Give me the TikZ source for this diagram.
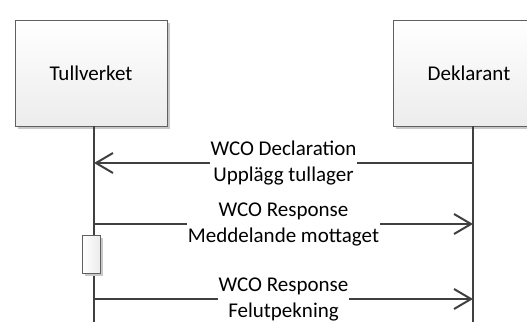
\documentclass[tikz,border=0pt]{standalone}
\usepackage{fontspec}
\setmainfont{Carlito}
\usepackage{tikz}
\usetikzlibrary{arrows.meta,shapes,positioning,shadows}
\usepackage{xcolor}
\definecolor{sqline}{RGB}{64,64,64}
\definecolor{sqborder}{RGB}{96,96,96}
\definecolor{sqshadow}{RGB}{200,200,200}
\definecolor{sqfill}{RGB}{236,236,236}
\tikzstyle{actorbox} = [rectangle, minimum width=152pt, minimum height=106pt, text centered, draw=sqborder, line width=1pt, top color=white, bottom color=sqfill, drop shadow={shadow xshift=3pt, shadow yshift=-3pt, fill=sqshadow, opacity=1}, font=\fontsize{21}{26}\selectfont]
\tikzstyle{activebox} = [rectangle, minimum width=18pt, minimum height=38pt, inner sep=0pt, draw=sqborder, line width=1pt, left color=white, right color=sqfill, drop shadow={shadow xshift=3pt, shadow yshift=-3pt, fill=sqshadow, opacity=1}]
\tikzstyle{lifeline} = [line width=2pt, color=sqline]
\tikzstyle{msgarrow} = [line width=2pt, color=sqline, -{Straight Barb[length=17pt,width=20pt]}]
\tikzstyle{msglabel} = [fill=white, align=center, inner xsep=1pt, inner ysep=0pt, text=black, font=\fontsize{21}{26}\selectfont]

\begin{document}
\begin{tikzpicture}[x=1pt,y=-1pt]
\useasboundingbox (0,0) rectangle (527,322);

% Actors
\node[actorbox] (tull) at (91,73) {Tullverket};
\node[actorbox] (dekl) at (469,73) {Deklarant};

% Lifelines
\coordinate (tulltop) at (94,126);
\coordinate (tullend) at (94,322);
\coordinate (dekltop) at (473,126);
\coordinate (deklend) at (473,322);
\draw[lifeline] (tulltop) -- (tullend);
\draw[lifeline] (dekltop) -- (deklend);

% Message end points
\coordinate (t1) at (94,163);
\coordinate (d1) at (473,163);
\coordinate (t2) at (94,224);
\coordinate (d2) at (473,224);
\coordinate (t3) at (94,299);
\coordinate (d3) at (473,299);

% Messages
\draw[msgarrow] (d1) -- node[msglabel] (lbl1) {WCO Declaration\\Upplägg tullager} (t1);
\draw[msgarrow] (t2) -- node[msglabel] (lbl2) {WCO Response\\Meddelande mottaget} (d2);
\draw[msgarrow] (t3) -- node[msglabel] (lbl3) {WCO Response\\Felutpekning} (d3);

% Activation
\node[activebox] (act) at (91,254) {};
\end{tikzpicture}
\end{document}
